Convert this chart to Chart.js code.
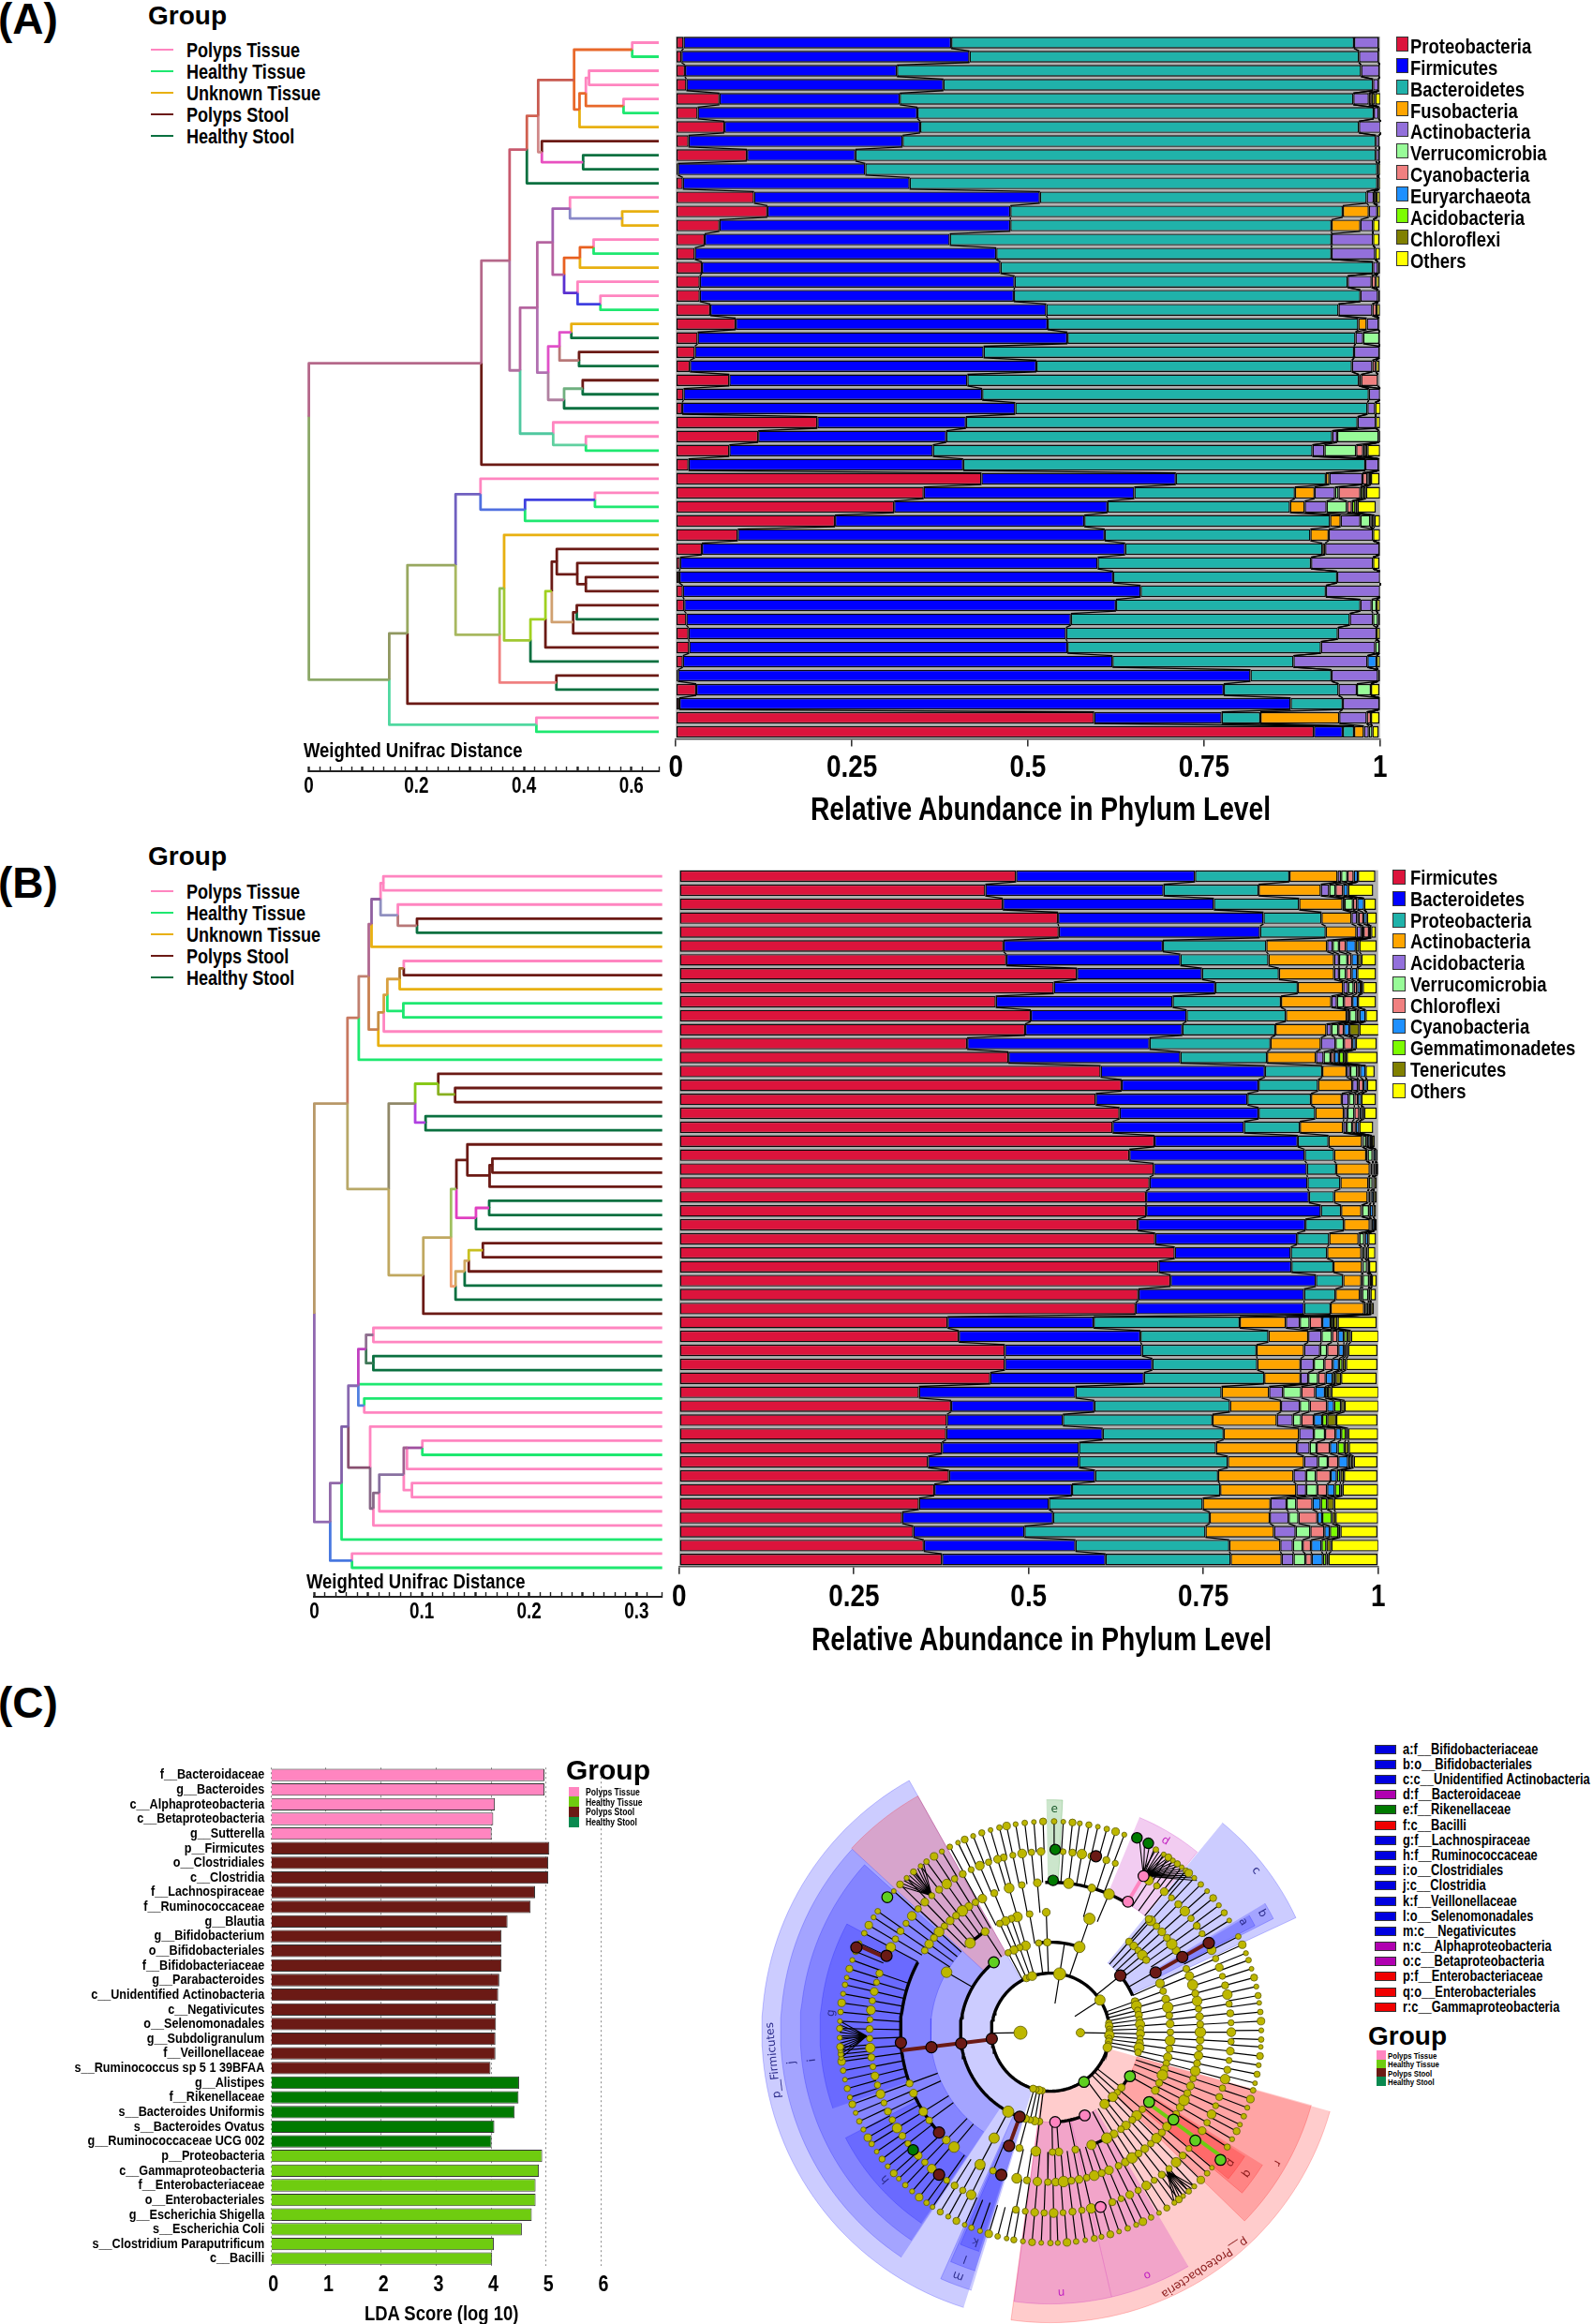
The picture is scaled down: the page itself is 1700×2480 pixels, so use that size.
<!DOCTYPE html>
<html>
<head>
<meta charset="utf-8">
<title>Relative abundance and LEfSe</title>
<script src="https://cdn.jsdelivr.net/npm/chart.js@4/dist/chart.umd.js"></script>
<style>
  body { margin: 0; background: #fff; }
  #page { position: relative; width: 1700px; height: 2480px; overflow: hidden; background: #fff; }
  #page canvas { position: absolute; }
  .txt { position: absolute; white-space: nowrap; color: #000; font-weight: bold; transform: translateY(-50%); }
  .txt.narrow { transform-origin: left center; transform: translateY(-50%) scaleX(.82); }
  .swatch { position: absolute; box-sizing: border-box; }
</style>
</head>
<body>
<div id="page"></div>
<script>
// no condensed face is installed, so canvas text asking for it gets squeezed here
const NARROW = "'Liberation Sans Narrow','Liberation Sans',sans-serif";
const WIDE = "'Liberation Sans',Arial,sans-serif";
const plainFillText = CanvasRenderingContext2D.prototype.fillText;
CanvasRenderingContext2D.prototype.fillText = function (text, x, y) {
  if (this.font.indexOf('Narrow') < 0) return plainFillText.call(this, text, x, y);
  this.save();
  this.translate(x, y);
  this.scale(.82, 1);
  plainFillText.call(this, text, 0, 0);
  this.restore();
};

// palette shared by the two stacked panels
const barColors = ['#DC143C','#0000FF','#20B2AA','#FFA500','#9370DB','#98FB98','#F08080','#1E90FF','#7CFC00','#808000','#FFFF00'];

// ---------- panel A, phylum shares per sample, top row first
const phylaA = ['Proteobacteria','Firmicutes','Bacteroidetes','Fusobacteria','Actinobacteria','Verrucomicrobia','Cyanobacteria','Euryarchaeota','Acidobacteria','Chloroflexi','Others'];
const proteoA = [.011,.008,.013,.015,.062,.031,.069,.018,.101,.003,.010,.111,.130,.062,.041,.027,.037,.034,.034,.049,.085,.031,.027,.020,.076,.011,.009,.201,.117,.076,.018,.434,.352,.310,.226,.088,.037,.006,.005,.010,.012,.015,.018,.019,.010,.003,.029,.005,.594,.906];
const firmiA = [.380,.409,.301,.365,.256,.312,.278,.304,.154,.266,.322,.406,.345,.413,.348,.428,.424,.447,.446,.477,.443,.525,.410,.492,.338,.424,.473,.211,.267,.289,.390,.276,.299,.303,.354,.521,.601,.593,.616,.650,.613,.546,.536,.537,.610,.813,.749,.868,.181,.041];
const bacteA = [.572,.553,.659,.610,.644,.648,.623,.672,.739,.727,.664,.464,.472,.456,.542,.476,.529,.473,.492,.415,.441,.409,.526,.448,.556,.549,.500,.556,.548,.539,.571,.213,.228,.259,.349,.292,.280,.303,.318,.263,.347,.396,.386,.360,.257,.115,.163,.074,.055,.016];
const fusoA = [0,0,0,0,0,0,0,0,0,0,0,0,.037,.041,0,0,0,0,0,0,.012,0,0,0,0,0,0,0,0,0,0,.005,.028,.021,.015,.026,.004,0,0,0,0,0,0,0,0,0,0,0,.112,.014];
const actinoA = [.035,.028,.026,.008,.022,.007,.031,.005,.005,.002,.002,.010,.012,.018,.059,.062,.007,.034,.025,.048,.017,.011,.036,.029,.003,.016,.011,.026,.007,.017,.019,.047,.029,.031,.028,.063,.077,.088,.061,.077,.016,.033,.055,.077,.105,.066,.026,.052,.039,.007];
const verruA = [0,0,0,0,0,0,0,0,0,0,0,0,0,0,0,0,0,0,0,0,0,.023,0,0,0,0,0,0,.059,.045,0,0,.005,.029,.014,0,0,0,0,0,.007,.007,0,.006,0,0,.020,0,0,.005];
const cyanoA = [0,0,0,0,.004,0,0,0,0,0,0,0,0,0,0,0,0,.006,0,.006,0,0,0,.005,.024,0,0,0,0,.010,0,.007,.031,.007,0,0,0,0,0,0,0,0,0,0,0,0,0,0,.006,0];
const euryA = [0,0,0,0,0,0,0,0,0,0,0,0,0,0,0,0,0,0,0,0,0,0,0,0,0,0,0,0,0,0,0,0,0,0,0,0,0,0,0,0,0,0,0,0,.013,0,0,0,0,0];
const acidoA = [0,0,0,0,0,0,0,0,0,0,0,0,0,0,0,0,0,0,0,0,0,0,0,0,0,0,0,0,0,.002,0,.002,.004,.005,.002,0,0,0,0,0,0,0,0,0,0,0,0,0,0,0];
const chloroA = [0,0,0,0,.005,0,0,0,0,0,0,.004,0,0,0,0,0,0,0,0,0,0,0,0,0,0,0,0,0,.004,0,.003,.004,.003,.004,0,0,0,0,0,0,0,0,0,0,0,0,0,0,0];
const othersA = [.001,.001,.001,.001,.008,.003,0,0,.001,.004,.004,.005,.005,.009,.009,.007,.003,.005,.003,.005,.001,.001,.001,.005,.001,.001,.008,.006,.003,.018,.001,.012,.020,.026,.008,.010,.001,.009,.001,.001,.005,.003,.005,.001,.005,.003,.012,.001,.012,.009];
const seriesA = [proteoA,firmiA,bacteA,fusoA,actinoA,verruA,cyanoA,euryA,acidoA,chloroA,othersA];

// ---------- panel B
const phylaB = ['Firmicutes','Bacteroidetes','Proteobacteria','Actinobacteria','Acidobacteria','Verrucomicrobia','Chloroflexi','Cyanobacteria','Gemmatimonadetes','Tenericutes','Others'];
const firmiB = [.482,.438,.463,.542,.543,.464,.468,.569,.536,.453,.503,.495,.412,.471,.603,.633,.596,.630,.620,.680,.644,.679,.673,.668,.668,.656,.681,.709,.686,.703,.657,.653,.384,.400,.466,.466,.445,.343,.389,.383,.382,.376,.356,.386,.365,.343,.319,.335,.350,.376];
const bacteB = [.256,.255,.302,.294,.288,.228,.249,.179,.231,.253,.223,.225,.261,.246,.235,.196,.217,.199,.188,.205,.251,.219,.226,.233,.250,.240,.203,.166,.190,.208,.237,.241,.209,.260,.196,.211,.220,.224,.205,.166,.224,.196,.216,.209,.197,.186,.216,.159,.217,.234];
const proteoB = [.135,.136,.122,.083,.094,.148,.126,.110,.118,.155,.142,.133,.173,.124,.082,.085,.091,.081,.080,.044,.042,.042,.047,.036,.029,.055,.046,.052,.060,.039,.045,.038,.209,.183,.164,.150,.172,.209,.194,.214,.173,.196,.213,.176,.212,.220,.224,.259,.220,.179];
const actinoB = [.069,.089,.062,.043,.044,.087,.094,.079,.065,.072,.087,.073,.072,.070,.035,.049,.044,.041,.062,.048,.046,.048,.040,.048,.029,.037,.042,.049,.041,.026,.035,.048,.066,.057,.068,.062,.052,.068,.073,.092,.108,.116,.109,.108,.109,.097,.086,.098,.073,.073];
const acidoB = [.005,.012,.003,.008,.007,.008,.007,.007,.007,.008,.004,.007,.021,.011,.005,.008,.010,.005,.005,.001,.002,.001,.001,.001,.001,.001,.001,.001,.001,.002,.003,.002,.020,.019,.023,.019,.011,.020,.027,.023,.021,.018,.020,.018,.014,.023,.027,.031,.018,.017];
const verruB = [.009,.009,.012,.002,.003,.009,.012,.010,.008,.010,.010,.010,.012,.010,.010,.001,.008,.010,.008,.005,.007,.003,.005,.003,.010,.001,.007,.004,.006,.009,.009,.004,.014,.015,.010,.015,.014,.026,.014,.012,.016,.010,.014,.014,.016,.014,.014,.021,.014,.017];
const chloroB = [.009,.011,.006,.007,.008,.010,.006,.008,.005,.012,.004,.008,.012,.005,.004,.007,.005,.007,.005,.001,.001,.001,.001,.001,.001,.001,.001,.001,.001,.001,.001,.001,.018,.008,.016,.012,.011,.020,.025,.018,.015,.019,.015,.021,.014,.023,.027,.020,.012,.009];
const cyanoB = [.006,.007,.010,.005,.003,.014,.009,.008,.005,.008,.009,.008,.005,.007,.008,.005,.005,.004,.005,.004,.004,.003,.001,.004,.005,.004,.005,.003,.002,.003,.002,.003,.012,.009,.008,.009,.010,.014,.010,.012,.008,.011,.014,.009,.011,.012,.007,.008,.015,.016];
const gemmaB = [0,0,0,0,0,0,0,0,0,0,0,0,0,.007,0,0,0,0,0,0,0,0,0,0,0,0,0,0,0,0,0,0,.004,.005,.003,.005,.004,.004,.010,.007,.007,.010,.004,.005,.008,.009,.014,.012,.007,.005];
const teneB = [0,0,0,0,0,.005,.005,0,.003,0,0,.014,0,.004,0,0,0,.003,0,.003,0,.003,0,0,0,0,0,0,0,0,0,0,.006,.005,.003,.005,.008,.005,.005,.013,.003,.006,.004,.005,.003,.010,.005,.003,.007,.003];
const othersB = [.025,.036,.017,.014,.007,.025,.021,.027,.020,.026,.017,.029,.030,.044,.013,.014,.021,.018,.020,.004,.002,.002,.004,.004,.004,.003,.011,.011,.011,.007,.008,.004,.056,.040,.042,.045,.051,.068,.049,.059,.043,.042,.034,.048,.051,.062,.061,.053,.068,.070];
const seriesB = [firmiB,bacteB,proteoB,actinoB,acidoB,verruB,chloroB,cyanoB,gemmaB,teneB,othersB];

const abundanceTicks = [0,.25,.5,.75,1];
const groupNames = ['Polyps Tissue','Healthy Tissue','Unknown Tissue','Polyps Stool','Healthy Stool'];
const P = '#FF85C0', H = '#1EE870', U = '#E8B010', S = '#6B1A15', D = '#0A7040';
const groupColors = [P,H,U,S,D];

// ---------- dendrograms: [colour, parent distance, parent row, child row, child distance]
const TIP_A = .651, TIP_B = .3239;
const treeA = [
 ['#B5688A',0,27.6,23.8,.321],['#8CA868',0,27.6,46.3,.1496],
 ['#B5688A',.321,23.8,16.5,.3735],[S,.321,23.8,31,TIP_A],
 ['#C85A6E',.3735,16.5,8.6,.4056],['#B070A0',.3735,16.5,24.3,.393],
 ['#D06050',.4056,8.6,6.2,.4267],[D,.4056,8.6,11,TIP_A],
 ['#C85A50',.4267,6.2,3.66,.4935],['#D08888',.4267,6.2,8.78,.4335],
 ['#E8682A',.4935,3.66,1.5,.6016],['#E8682A',.4935,3.66,5.75,.5036],
 [P,.6016,1.5,1,TIP_A],[H,.6016,1.5,2,TIP_A],
 ['#E8682A',.5036,5.75,4.6,.5154],[U,.5036,5.75,7,TIP_A],
 [P,.5154,4.6,3.5,.5213],['#E8682A',.5154,4.6,5.5,.5855],
 [P,.5213,3.5,3,TIP_A],[P,.5213,3.5,4,TIP_A],
 [P,.5855,5.5,5,TIP_A],[H,.5855,5.5,6,TIP_A],
 [S,.4335,8.78,8,TIP_A],['#E850C0',.4335,8.78,9.5,.5103],
 [D,.5103,9.5,9,TIP_A],[D,.5103,9.5,10,TIP_A],
 ['#B565A0',.393,24.3,19.85,.425],['#50C8A0',.393,24.3,28.8,.4546],
 ['#B565A0',.425,19.85,15.2,.4537],['#B070B0',.425,19.85,24.46,.4453],
 ['#A060B0',.4537,15.2,12.8,.4858],['#B560A0',.4537,15.2,17.5,.4749],
 [P,.4858,12.8,12,TIP_A],['#8888C8',.4858,12.8,13.5,.583],
 [U,.583,13.5,13,TIP_A],[U,.583,13.5,14,TIP_A],
 ['#E86020',.4749,17.5,16.3,.5044],['#5A30D0',.4749,17.5,18.8,.5],
 ['#E86020',.5044,16.3,15.55,.5298],[U,.5044,16.3,17,TIP_A],
 [P,.5298,15.55,15,TIP_A],[H,.5298,15.55,16,TIP_A],
 [P,.5,18.8,18,TIP_A],['#4040E0',.5,18.8,19.6,.5425],
 [P,.5425,19.6,19,TIP_A],[H,.5425,19.6,20,TIP_A],
 ['#E050C8',.4453,24.46,22.6,.4664],['#B080A0',.4453,24.46,26.4,.4749],
 ['#E050C8',.4664,22.6,21.6,.4884],['#B87878',.4664,22.6,23.6,.5027],
 [U,.4884,21.6,21,TIP_A],[D,.4884,21.6,22,TIP_A],
 [S,.5027,23.6,23,TIP_A],[D,.5027,23.6,24,TIP_A],
 ['#70B080',.4749,26.4,25.6,.5095],[D,.4749,26.4,27,TIP_A],
 [S,.5095,25.6,25,TIP_A],[D,.5095,25.6,26,TIP_A],
 [P,.4546,28.8,28,TIP_A],['#60D0A0',.4546,28.8,29.6,.5154],
 [P,.5154,29.6,29,TIP_A],[H,.5154,29.6,30,TIP_A],
 ['#909860',.1496,46.3,43,.1834],['#50D8A0',.1496,46.3,49.5,.4233],
 [P,.4233,49.5,49,TIP_A],[H,.4233,49.5,50,TIP_A],
 ['#98A860',.1834,43,38.15,.273],[S,.1834,43,48,TIP_A],
 ['#7060C0',.273,38.15,33.1,.3194],['#A8B860',.273,38.15,43.1,.3549],
 [P,.3194,33.1,32,TIP_A],['#5070E0',.3194,33.1,34.2,.4022],
 ['#4040E0',.4022,34.2,33.5,.5323],[H,.4022,34.2,35,TIP_A],
 [P,.5323,33.5,33,TIP_A],[H,.5323,33.5,34,TIP_A],
 ['#90C050',.3549,43.1,39.8,.3633],['#F08080',.3549,43.1,46.5,.4605],
 [S,.4605,46.5,46,TIP_A],[D,.4605,46.5,47,TIP_A],
 [U,.3633,39.8,36,TIP_A],['#A0C830',.3633,39.8,43.5,.4123],
 ['#A0D020',.4123,43.5,42,.4402],[D,.4123,43.5,45,TIP_A],
 ['#A0D020',.4402,42,40,.452],[S,.4402,42,44,TIP_A],
 [S,.452,40,37.9,.4613],['#D0A070',.452,40,42.2,.4918],
 [S,.4613,37.9,37,TIP_A],[S,.4613,37.9,38.8,.4994],
 [S,.4994,38.8,38,TIP_A],[S,.4994,38.8,39.5,.5154],
 [S,.5154,39.5,39,TIP_A],[S,.5154,39.5,40,TIP_A],
 [S,.4918,42.2,41.5,.4985],[S,.4918,42.2,43,TIP_A],
 [S,.4985,41.5,41,TIP_A],[D,.4985,41.5,42,TIP_A]
];
const treeB = [
 ['#B89868',0,32,17.1,.0309],['#9068B0',0,32,46.76,.0148],
 ['#C87860',.0309,17.1,11.03,.0414],['#B8A868',.0309,17.1,23.16,.0693],
 ['#C08070',.0414,11.03,8.09,.0507],[H,.0414,11.03,14,TIP_B],
 ['#B06890',.0507,8.09,4.39,.0533],['#C88050',.0507,8.09,11.86,.0596],
 ['#9060A0',.0533,4.39,2.62,.0617],[U,.0533,4.39,6,TIP_B],
 [P,.0617,2.62,1.49,.0643],['#9090C0',.0617,2.62,3.75,.0778],
 [P,.0643,1.49,1,TIP_B],[P,.0643,1.49,2,TIP_B],
 [P,.0778,3.75,3,TIP_B],['#B87878',.0778,3.75,4.5,.0956],
 [S,.0956,4.5,4,TIP_B],[D,.0956,4.5,5,TIP_B],
 ['#C89040',.0596,11.86,10.65,.0647],[U,.0596,11.86,13,TIP_B],
 ['#D8A040',.0647,10.65,9.4,.068],[P,.0647,10.65,12,TIP_B],
 ['#D8A040',.068,9.4,8.28,.0795],[H,.068,9.4,10.54,.0829],
 ['#B07830',.0795,8.28,7.52,.0833],[U,.0795,8.28,9,TIP_B],
 [P,.0833,7.52,7,TIP_B],[S,.0833,7.52,8,TIP_B],
 [H,.0829,10.54,10,TIP_B],[H,.0829,10.54,11,TIP_B],
 ['#908868',.0693,23.16,17.1,.0939],['#C0A860',.0693,23.16,29.27,.1015],
 ['#88C818',.0939,17.1,15.7,.1154],['#B040E0',.0939,17.1,18.45,.1036],
 [S,.1154,15.7,15,TIP_B],['#88B020',.1154,15.7,16.45,.1311],
 [S,.1311,16.45,16,TIP_B],[S,.1311,16.45,17,TIP_B],
 [D,.1036,18.45,18,TIP_B],[D,.1036,18.45,19,TIP_B],
 ['#C0A860',.1015,29.27,26.6,.1273],[S,.1015,29.27,32,TIP_B],
 ['#A0C060',.1273,26.6,23.16,.1323],['#F0A070',.1273,26.6,30.06,.1315],
 [S,.1323,23.16,21.1,.1425],['#E040C0',.1323,23.16,25.2,.1505],
 [S,.1425,21.1,20,TIP_B],[S,.1425,21.1,22.2,.1632],
 [S,.1632,22.2,21.47,.1658],[S,.1632,22.2,23,TIP_B],
 [S,.1658,21.47,21,TIP_B],[S,.1658,21.47,22,TIP_B],
 ['#E040C0',.1505,25.2,24.5,.1628],[D,.1505,25.2,26,TIP_B],
 [D,.1628,24.5,24,TIP_B],[D,.1628,24.5,25,TIP_B],
 ['#D0A860',.1315,30.06,29,.14],[D,.1315,30.06,31,TIP_B],
 ['#D0A860',.14,29,28.25,.1438],[D,.14,29,30,TIP_B],
 ['#C8C020',.1438,28.25,27.5,.1569],[S,.1438,28.25,29,TIP_B],
 [S,.1569,27.5,27,TIP_B],[S,.1569,27.5,28,TIP_B],
 ['#9068A8',.0148,46.76,44,.0254],['#4878E0',.0148,46.76,49.5,.0351],
 [P,.0351,49.5,49,TIP_B],[H,.0351,49.5,50,TIP_B],
 ['#8060A8',.0254,44,40,.0317],[H,.0254,44,48,TIP_B],
 ['#8868B0',.0317,40,37.1,.041],['#885070',.0317,40,42.9,.052],
 ['#C040C0',.041,37.1,34.5,.0482],[H,.041,37.1,37,TIP_B],['#5080E0',.041,37.1,38.5,.0465],
 ['#907090',.0482,34.5,33.5,.055],['#407858',.0482,34.5,35.5,.055],
 [P,.055,33.5,33,TIP_B],[P,.055,33.5,34,TIP_B],
 [D,.055,35.5,35,TIP_B],[D,.055,35.5,36,TIP_B],
 [H,.0465,38.5,38,TIP_B],[P,.0465,38.5,39,TIP_B],
 [P,.052,42.9,40,TIP_B],['#886888',.052,42.9,45.8,.055],
 ['#886888',.055,45.8,44.7,.0605],[P,.055,45.8,47,TIP_B],
 ['#8870A0',.0605,44.7,43.4,.0833],[P,.0605,44.7,46,TIP_B],
 ['#A06090',.0833,43.4,41.5,.0863],[P,.0833,43.4,44.5,.0909],
 ['#A050A0',.0863,41.5,41.5,.1006],[P,.0863,41.5,43,TIP_B],
 [P,.1006,41.5,41,TIP_B],[H,.1006,41.5,42,TIP_B],
 [P,.0909,44.5,44,TIP_B],[P,.0909,44.5,45,TIP_B]
];

// ---------- LDA scores
const ldaNames = ['f__Bacteroidaceae','g__Bacteroides','c__Alphaproteobacteria','c__Betaproteobacteria','g__Sutterella','p__Firmicutes','o__Clostridiales','c__Clostridia','f__Lachnospiraceae','f__Ruminococcaceae','g__Blautia','g__Bifidobacterium','o__Bifidobacteriales','f__Bifidobacteriaceae','g__Parabacteroides','c__Unidentified Actinobacteria','c__Negativicutes','o__Selenomonadales','g__Subdoligranulum','f__Veillonellaceae','s__Ruminococcus sp 5 1 39BFAA','g__Alistipes','f__Rikenellaceae','s__Bacteroides Uniformis','s__Bacteroides Ovatus','g__Ruminococcaceae UCG 002','p__Proteobacteria','c__Gammaproteobacteria','f__Enterobacteriaceae','o__Enterobacteriales','g__Escherichia Shigella','s__Escherichia Coli','s__Clostridium Paraputrificum','c__Bacilli'];
const ldaScores = [4.97,4.97,4.07,4.04,4.01,5.06,5.04,5.04,4.80,4.72,4.30,4.19,4.19,4.19,4.15,4.13,4.09,4.09,4.08,4.08,3.99,4.51,4.50,4.43,4.06,4.01,4.93,4.87,4.81,4.81,4.74,4.56,4.05,4.02];
const ldaGroup = [0,0,0,0,0,2,2,2,2,2,2,2,2,2,2,2,2,2,2,2,2,3,3,3,3,3,1,1,1,1,1,1,1,1];
const ldaColors = ['#FF85C0','#6FCC10','#6B1A15','#007A00'];
const ldaLegendColors = ['#FF85C0','#6FCC10','#6B1A15','#0A8A50'];
const ldaLegend = ['Polyps Tissue','Healthy Tissue','Polyps Stool','Healthy Stool'];

// ---------- cladogram, angle in degrees clockwise from north, radius in rings
const cladeKey = ['a:f__Bifidobacteriaceae','b:o__Bifidobacteriales','c:c__Unidentified Actinobacteria','d:f__Bacteroidaceae','e:f__Rikenellaceae','f:c__Bacilli','g:f__Lachnospiraceae','h:f__Ruminococcaceae','i:o__Clostridiales','j:c__Clostridia','k:f__Veillonellaceae','l:o__Selenomonadales','m:c__Negativicutes','n:c__Alphaproteobacteria','o:c__Betaproteobacteria','p:f__Enterobacteriaceae','q:o__Enterobacteriales','r:c__Gammaproteobacteria'];
const cladeKeyColor = ['#0000E0','#0000E0','#0000E0','#B000B0','#007A00','#F00000','#0000E0','#0000E0','#0000E0','#0000E0','#0000E0','#0000E0','#0000E0','#B000B0','#B000B0','#F00000','#F00000','#F00000'];
const BLUE = '0,0,255', PURP = '190,0,184', GRN = '0,128,0', RED = '255,0,0';
// start, end, inner, outer, colour
const wedges = [
 [197.5,330.7,63,308,BLUE],[105.8,187.8,63,310,RED],
 [213.5,312.7,96,288,BLUE],[197,204,96,288,BLUE],[312.7,330.7,96,289,RED],
 [213.7,312,128,267,BLUE],[197.5,203.5,128,267,BLUE],
 [250.7,298,160,246,BLUE],[214,242.7,160,246,BLUE],[198,203,160,246,BLUE],
 [39.4,65,96,289,BLUE],[59,63,128,267,BLUE],[59.5,62.5,160,246,BLUE],
 [22.5,39.2,160,248,PURP],[359,363,160,248,GRN],
 [105.6,134.2,96,289,RED],[122,130,128,267,RED],[122.5,129.5,160,246,RED],
 [167,187.7,96,290,PURP],[149.5,167,96,290,PURP]
];
// text, angle, radius, colour
const wedgeLabels = [
 ['p__Firmicutes',264.2,297,'#2a2a8a'],['j',263.3,278,'#2a2a8a'],['i',263.3,256,'#2a2a8a'],['g',275,235,'#2a2a8a'],['h',228.4,236,'#2a2a8a'],
 ['k',199.7,237,'#2a2a8a'],['l',200.6,258,'#2a2a8a'],['m',200.7,278,'#2a2a8a'],['a',60.2,237,'#2a2a8a'],['b',60.7,259,'#2a2a8a'],['c',51.8,279,'#2a2a8a'],
 ['d',31,238,'#C020C0'],['e',1,238,'#1a5a2a'],['n',177.6,278,'#C020C0'],['o',158.3,279,'#C020C0'],
 ['p',126,237,'#8a1a1a'],['q',125.8,258,'#8a1a1a'],['r',120,279,'#8a1a1a'],['p__Proteobacteria',146.8,300,'#8a1a1a']
];
const ring63 = [336,339,342,81,84,87,90,93,96,99,102,105,188,191,194,197];
const ring96 = [358,352.5,344,340,336,332,70,73,76,79,82,85,88,91,94,97,100,103,128,132,136,187,190,193,196];
const ring128 = [358,350,344,341,338,335,327,300,41,44,47,50,53,66,70,74,78,82,86,90,94,98,102,105,108,111,115,119,130,134,137,141,144,148,152,168,176,179,187,195];
const ring160 = [355,349,344,338,333,330,327,324,321,318,315,312,309,306,303,16,23,250,246,202.5,193,189,185,181,178,175,172,169,166,163,160,157,153,150,147,144,141,138,135,132,129,123,120,117,114,111,108,105,102,99,96,93,90,87,84,81,78,75,68,65,57,54,51,48,45,42,41,238,234,224,220];
const ring193 = [345,348,351,354,357,4,7,10,13,18,21,33,36,39,42,45,48,51,54,57,63,66,69,72,75,78,81,84,87,90,93,96,99,102,105,108,111,114,117,120,123,130,133,136,139,142,145,148,151,154,157,160,167,170,173,176,179,182,185,188,191,206,209,212,215,221,224,227,232,235,238,241,244,247,250,253,256,259,262,265,268,271,274,277,280,283,286,289,298,301,304,307,310,313,316,319,322,325,328,331,334,337,340,343];
const ring225 = [1,3.5,6,8,10.5,13,15.5,18,20.5,30,32.5,34,35.5,37,38.5,40,41,43,45.5,48,50.5,53,55.5,58,63,65.5,68,70,72.5,75,77.5,80,82,84.5,87,89.5,92,94,96.5,99,101.5,104,106,108.5,111,113.5,116,118,120.5,123,130,132,134.5,137,139,141,142.5,144,146.5,149,151.5,154,156,158.5,161,163.5,166,168,170.5,173,175.5,178,180,182.5,185,187.5,190,192,194.5,197,199.5,202,204,206.5,209,211.5,214,216,218.5,221,223.5,226,228,230.5,233,235.5,238,240,242.5,245,247.5,250,252,254.5,257,259.5,262,263,264,265,266,268.5,271,273,275.5,278,280.5,283,285,287.5,290,292.5,295,298,300.5,303,305,312,314.5,317,319.5,322,324,326.5,329,331.5,334,336,338.5,341,343.5,346,348,350.5,353,355.5,358];
// node radii vary a little along a ring
const nodeSizes = [1,.85,1.25,.9,1.1,.85,1,1.35,.9];
// ring, angle of the larger pale nodes
const bigNodes = [[32,269],[32,91],[63,9],[63,57],[96,18.8],[96,143],[96,208],[128,19],[128,318],[128,208],[128,160],[160,7],[160,208],[160,71.6]];
const bigSize = [7,4.5,6.5,5.5,6,5,6,6,5.5,5.5,5,5.5,5.5,5.5];
const darkNodes = [[63,263.6],[96,262.8],[128,262.8],[160,266],[160,228],[193,295],[226,293.6],[96,51],[129,60.4],[162,60.3],[194,60.6],[194,14.5],[96,200],[129,200],[161,199],[193,218]];
const greenNodes = [[162,1],[195,1.5],[227,24],[227,27.4],[193,229.4]];
const limeNodes = [[64,146],[97,119],[96,321],[226,309.6],[129,125.3],[161,125.4],[193,126.8],[227,126.9]];
const pinkNodes = [[162,30.7],[194,30.8],[96,177],[96,157.6],[194,164]];
// ring, start, end
const thickArcs = [[63,0,360],[96,200,321],[96,352.5,378.8],[96,51,66],[96,119,143],[96,157.6,177],[160,250,297.8],[160,228,245.6],[160,358,391],[128,318,327],[128,152,160]];
// colour, angle, inner, outer
const thickSpokes = [[S,263,63,160],[S,294.3,193,226],[S,200,96,129],[S,60.4,129,194],[P,30.7,162,194],[ldaColors[1],126,129,227]];
// apex ring, apex angle, leaf angles on the outer ring
const fans = [
 [194,30.8,[25,26.5,28,29.5,31,32,33,34,35,36,37,38,39,40,41,42,43,44]],
 [193,319,[314,315,316,317,318,319,320,321,322,323]],
 [196,268.8,[263,264,265,266,267,268,269,270,271,272,273]],
 [193,140,[137,138,139,140,141,142,143,144]]
];

// ---------- helpers
const page = document.getElementById('page');
function addText(text, x, y, size, family) {
  const d = document.createElement('div');
  d.className = family ? 'txt' : 'txt narrow';
  d.textContent = text;
  d.style.left = x + 'px';
  d.style.top = y + 'px';
  d.style.fontSize = size + 'px';
  d.style.fontFamily = family || 'Liberation Sans';
  page.appendChild(d);
}
function addSwatch(x, y, w, h, fill, border) {
  const d = document.createElement('div');
  d.className = 'swatch';
  d.style.cssText = 'left:' + x + 'px;top:' + y + 'px;width:' + w + 'px;height:' + h + 'px;background:' + fill + ';' + (border ? 'border:' + border : '');
  page.appendChild(d);
}
function place(left, top, width, height, config) {
  const c = document.createElement('canvas');
  c.width = width;
  c.height = height;
  c.style.left = left + 'px';
  c.style.top = top + 'px';
  page.appendChild(c);
  config.options.responsive = false;
  config.options.animation = false;
  config.options.devicePixelRatio = 1;
  return new Chart(c, config);
}
function boldFont(size) { return { family: NARROW, weight: 'bold', size: size }; }

// grey gap behind the rows and black links between neighbouring rows
const ribbonPlugin = {
  id: 'ribbon',
  beforeDatasetsDraw(chart) {
    const a = chart.chartArea, ctx = chart.ctx;
    ctx.save();
    ctx.fillStyle = '#b2b2b2';
    ctx.fillRect(a.left, a.top + 1, a.right - a.left, a.bottom - a.top - 2);
    ctx.restore();
  },
  afterDatasetsDraw(chart) {
    const ctx = chart.ctx, xs = chart.scales.x, ys = chart.scales.y;
    const sets = chart.data.datasets, n = chart.data.labels.length;
    const half = chart.getDatasetMeta(0).data[0].height / 2;
    ctx.save();
    ctx.strokeStyle = '#000';
    ctx.lineWidth = 1.3;
    for (let i = 0; i < n - 1; i++) {
      let c0 = 0, c1 = 0;
      for (let s = 0; s < sets.length - 1; s++) {
        c0 += sets[s].data[i];
        c1 += sets[s].data[i + 1];
        ctx.beginPath();
        ctx.moveTo(xs.getPixelForValue(c0), ys.getPixelForValue(i) + half);
        ctx.lineTo(xs.getPixelForValue(c1), ys.getPixelForValue(i + 1) - half);
        ctx.stroke();
      }
    }
    ctx.restore();
  }
};

function stackedPanel(left, top, width, height, pad, axisH, series, names, tickPad) {
  const rows = series[0].map((v, i) => 'S' + (i + 1));
  place(left, top, width, height, {
    type: 'bar',
    data: {
      labels: rows,
      datasets: series.map((vals, i) => ({
        label: names[i], data: vals, backgroundColor: barColors[i],
        borderColor: '#0a0a0a', borderWidth: 1.4, borderSkipped: false,
        categoryPercentage: 1, barPercentage: .83
      }))
    },
    plugins: [ribbonPlugin],
    options: {
      indexAxis: 'y',
      layout: { autoPadding: false, padding: pad },
      plugins: { legend: { display: false }, tooltip: { enabled: false } },
      scales: {
        y: { stacked: true, display: false },
        x: {
          stacked: true, min: 0, max: 1,
          afterFit(s) { s.height = axisH; },
          afterBuildTicks(s) { s.ticks = abundanceTicks.map(v => ({ value: v })); },
          grid: { drawOnChartArea: false, tickLength: 8, color: '#333', lineWidth: 1.6 },
          border: { display: true, color: '#555', width: 1.5 },
          ticks: { color: '#000', font: boldFont(34), padding: tickPad, maxRotation: 0, autoSkip: false, callback: v => String(v) }
        }
      }
    }
  });
}

function dendroPanel(left, top, width, height, pad, axisH, tree, tip, yMax, step, major, longStep) {
  place(left, top, width, height, {
    type: 'scatter',
    data: {
      datasets: tree.map(b => ({
        data: [{ x: b[1], y: b[2] }, { x: b[1], y: b[3] }, { x: b[4], y: b[3] }],
        showLine: true, borderColor: b[0], borderWidth: 2.8, pointRadius: 0,
        borderJoinStyle: 'round', tension: 0, clip: false
      }))
    },
    options: {
      layout: { autoPadding: false, padding: pad },
      plugins: { legend: { display: false }, tooltip: { enabled: false } },
      scales: {
        y: { display: false, reverse: true, min: .5, max: yMax },
        x: {
          min: 0, max: tip,
          afterFit(s) { s.height = axisH; },
          grid: {
            drawOnChartArea: false, tickLength: -5, tickColor: '#222',
            tickWidth: ctx => (Math.abs(ctx.tick.value / longStep - Math.round(ctx.tick.value / longStep)) < 1e-6 ? 2.4 : 1.4)
          },
          border: { display: true, color: '#222', width: 2 },
          ticks: {
            stepSize: step, color: '#000', font: boldFont(23), padding: 8, maxRotation: 0, autoSkip: false,
            callback: v => (Math.abs(v / major - Math.round(v / major)) < 1e-6 ? String(+v.toFixed(1)) : '')
          }
        }
      }
    }
  });
}

// ---------- panel A
addText('(A)', -2, 20, 46, WIDE);
addText('Group', 158, 17, 28, WIDE);
groupNames.forEach((g, i) => {
  const y = 54 + i * 23;
  addSwatch(161, y - 2, 24, 2, groupColors[i]);
  addText(g, 199, y, 22);
});
dendroPanel(310, 30, 410, 830, { left: 19.6, right: 17, top: 8, bottom: 0 }, 37, treeA, TIP_A, 52.8, .02, .2, .1);
addText('Weighted Unifrac Distance', 324, 801, 22.5);
stackedPanel(700, 30, 800, 855, { left: 21.2, right: 27.2, top: 8, bottom: 0 }, 96.5, seriesA, phylaA, 3);
addText('Relative Abundance in Phylum Level', 865, 863, 34.4);
phylaA.forEach((name, i) => {
  const y = 39 + i * 22.85;
  addSwatch(1490, y, 13, 16, barColors[i], '1.5px solid #333');
  addText(name, 1505, y + 11, 22.5);
});

// ---------- panel B
addText('(B)', -2, 942, 46, WIDE);
addText('Group', 158, 914, 28, WIDE);
groupNames.forEach((g, i) => {
  const y = 951.5 + i * 23;
  addSwatch(161, y - 2, 24, 2, groupColors[i]);
  addText(g, 199, y, 22);
});
dendroPanel(310, 920, 410, 820, { left: 25.4, right: 13.3, top: 7.6, bottom: 0 }, 36, treeB, TIP_B, 52.06, .01, .1, .05);
addText('Weighted Unifrac Distance', 327, 1688, 22.5);
stackedPanel(700, 920, 800, 851, { left: 24.8, right: 29.3, top: 7.6, bottom: 0 }, 99.3, seriesB, phylaB, 5);
addText('Relative Abundance in Phylum Level', 866, 1749, 34.4);
phylaB.forEach((name, i) => {
  const y = 928 + i * 22.75;
  addSwatch(1486, y, 14, 16, barColors[i], '1.5px solid #333');
  addText(name, 1505, y + 9, 22.5);
});

// ---------- panel C, bars
addText('(C)', -2, 1817, 46, WIDE);
place(0, 1870, 660, 610, {
  type: 'bar',
  data: {
    labels: ldaNames,
    datasets: [{
      data: ldaScores, backgroundColor: ldaGroup.map(g => ldaColors[g]),
      borderColor: '#333', borderWidth: 1, categoryPercentage: 1, barPercentage: .85
    }]
  },
  options: {
    indexAxis: 'y',
    layout: { autoPadding: false, padding: { left: 0, right: 18.6, top: 14, bottom: 0 } },
    plugins: { legend: { display: false }, tooltip: { enabled: false } },
    scales: {
      y: {
        afterFit(s) { s.width = 289.3; },
        grid: { display: false, drawTicks: false }, border: { display: false },
        ticks: { color: '#000', font: boldFont(15.4), padding: 7, autoSkip: false }
      },
      x: {
        min: 0, max: 6,
        afterFit(s) { s.height = 62; },
        grid: { color: '#8a8a8a', drawTicks: false },
        border: { display: false, dash: [2, 3] },
        ticks: { stepSize: 1, color: '#000', font: boldFont(24), padding: 6, labelOffset: 2.5 }
      }
    }
  }
});
addText('LDA Score (log 10)', 389, 2469, 22.5);
addText('Group', 604, 1889, 30, WIDE);
ldaLegend.forEach((g, i) => {
  const y = 1912 + i * 10.7;
  addSwatch(607, y - 5.5, 11, 11, ldaLegendColors[i]);
  addText(g, 625, y, 10.5);
});

// ---------- panel C, cladogram
function polar(r, a) {
  const t = a * Math.PI / 180;
  return { x: r * Math.sin(t), y: r * Math.cos(t) };
}
function arcPoints(r, a0, a1) {
  const pts = [];
  const n = Math.max(2, Math.ceil(Math.abs(a1 - a0) / 2));
  for (let i = 0; i <= n; i++) pts.push(polar(r, a0 + (a1 - a0) * i / n));
  return pts;
}
function nodeSet(list, fill, border, radius, borderW) {
  return {
    data: list.map(p => polar(p[0], p[1])), showLine: false,
    pointBackgroundColor: fill, pointBorderColor: border, pointBorderWidth: borderW,
    pointRadius: radius
  };
}
function ringSet(angles, r, size) {
  return nodeSet(angles.map(a => [r, a]), PALE, PALE_EDGE, angles.map((a, i) => size * nodeSizes[i % nodeSizes.length]), .8);
}
const GAP = { x: NaN, y: NaN };
const spokeData = [];
const ringsAll = [[ring96, 96, 63], [ring128, 128, 96], [ring160, 160, 128], [ring193, 193, 160], [ring225, 225, 193]];
ringsAll.forEach(g => g[0].forEach(a => spokeData.push(polar(g[2], a), polar(g[1], a), GAP)));
[[63, 269], [63, 91], [63, 9], [96, 9], [128, 19], [63, 57], [96, 51], [128, 60], [96, 18.8], [96, 143], [128, 208], [160, 208]].forEach(p => spokeData.push(polar(p[0] - 32, p[1]), polar(p[0], p[1]), GAP));
const fanData = [];
fans.forEach(f => f[2].forEach(a => fanData.push(polar(f[0], f[1]), polar(225, a), GAP)));

const PALE = '#BDB700', PALE_EDGE = '#5d5a00';
const cladeSets = [];
wedges.forEach(w => {
  cladeSets.push({
    data: arcPoints(w[3], w[0], w[1]).concat(arcPoints(w[2], w[1], w[0])),
    showLine: true, fill: 'shape', pointRadius: 0, tension: 0,
    backgroundColor: 'rgba(' + w[4] + ',.2)', borderColor: 'rgba(' + w[4] + ',.22)', borderWidth: 1
  });
});
cladeSets.push({ data: spokeData, showLine: true, pointRadius: 0, borderColor: '#000', borderWidth: 1.2 });
cladeSets.push({ data: fanData, showLine: true, pointRadius: 0, borderColor: '#000', borderWidth: 1.1 });
thickArcs.forEach(t => cladeSets.push({ data: arcPoints(t[0], t[1], t[2]), showLine: true, pointRadius: 0, borderColor: '#000', borderWidth: 3.4 }));
thickSpokes.forEach(t => cladeSets.push({ data: [polar(t[2], t[1]), polar(t[3], t[1])], showLine: true, pointRadius: 0, borderColor: t[0], borderWidth: 4 }));
cladeSets.push(ringSet(ring225, 225, 3));
cladeSets.push(ringSet(ring193, 193, 3.8));
cladeSets.push(ringSet(ring160, 160, 4.2));
cladeSets.push(ringSet(ring128, 128, 4.2));
cladeSets.push(ringSet(ring96, 96, 4));
cladeSets.push(ringSet(ring63, 63, 3.8));
cladeSets.push(nodeSet(bigNodes, PALE, PALE_EDGE, bigSize, .8));
cladeSets.push(nodeSet(darkNodes, ldaColors[2], '#000', 6, 1.2));
cladeSets.push(nodeSet(greenNodes, '#007A00', '#000', 5.6, 1.2));
cladeSets.push(nodeSet(limeNodes, '#5FCF20', '#000', 5.8, 1.2));
cladeSets.push(nodeSet(pinkNodes, ldaColors[0], '#000', 5.8, 1.2));

const wedgeLabelPlugin = {
  id: 'wedgeLabels',
  afterDatasetsDraw(chart) {
    const ctx = chart.ctx, xs = chart.scales.x, ys = chart.scales.y;
    ctx.save();
    ctx.font = "12px 'DejaVu Sans',sans-serif";
    ctx.textAlign = 'center';
    ctx.textBaseline = 'middle';
    wedgeLabels.forEach(l => {
      const p = polar(l[2], l[1]);
      ctx.save();
      ctx.translate(xs.getPixelForValue(p.x), ys.getPixelForValue(p.y));
      ctx.rotate(l[1] * Math.PI / 180);
      ctx.fillStyle = l[3];
      ctx.fillText(l[0], 0, 0);
      ctx.restore();
    });
    ctx.restore();
  }
};
place(790, 1840, 660, 640, {
  type: 'scatter',
  data: { datasets: cladeSets.slice().reverse() },
  plugins: [wedgeLabelPlugin],
  options: {
    layout: { autoPadding: false, padding: 0 },
    plugins: { legend: { display: false }, tooltip: { enabled: false } },
    scales: {
      x: { display: false, min: -331, max: 329 },
      y: { display: false, min: -311.4, max: 328.6 }
    }
  }
});

cladeKey.forEach((k, i) => {
  const y = 1866.7 + i * 16.18;
  addSwatch(1467, y - 5, 23, 10, cladeKeyColor[i], '1.5px solid #333');
  addText(k, 1497, y, 15.7);
});
addText('Group', 1460, 2173, 28, WIDE);
ldaLegend.forEach((g, i) => {
  const y = 2193 + i * 9.4;
  addSwatch(1469, y - 4.8, 9.5, 9.6, ldaLegendColors[i]);
  addText(g, 1481, y, 9.5);
});
</script>
</body>
</html>
